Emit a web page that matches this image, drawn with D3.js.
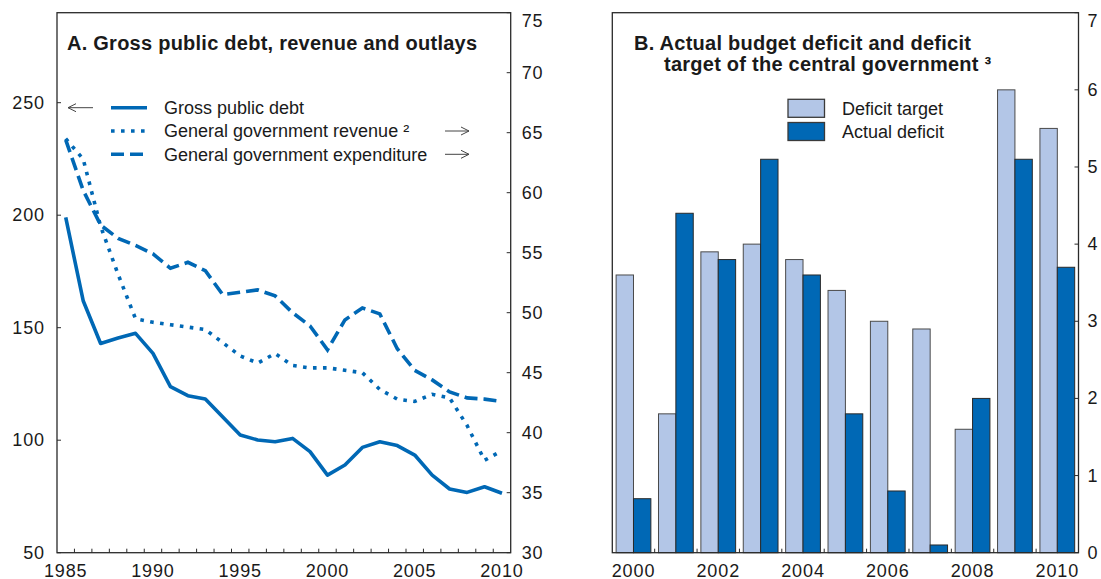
<!DOCTYPE html>
<html><head><meta charset="utf-8">
<script src="https://cdn.jsdelivr.net/npm/d3@7"></script>
<style>
body{margin:0;background:#fff}
text{font-family:"Liberation Sans",Arial,Helvetica,sans-serif;fill:#1a1a1a}
</style>
</head><body><svg id="c" width="1101" height="579"></svg>
<script>
// ---------- data ----------
const years = [1985,1986,1987,1988,1989,1990,1991,1992,1993,1994,1995,1996,1997,1998,1999,2000,2001,2002,2003,2004,2005,2006,2007,2008,2009,2010];
const grossDebt = [199,162,143,145.4,147.5,138.6,123.8,119.8,118.3,110.3,102.3,100.1,99.3,100.8,94.9,84.5,89,96.8,99.3,97.6,93.4,84.5,78.3,76.8,79.3,76.4];
const revenue = [64.5,62.8,57.2,53.2,49.5,49.2,49.0,48.8,48.6,47.5,46.4,45.8,46.6,45.6,45.4,45.4,45.2,45.0,43.6,42.8,42.6,43.2,42.9,40.6,37.7,38.5];
const expenditure = [64.4,60.2,57.3,56.2,55.6,54.9,53.7,54.2,53.5,51.5,51.7,51.9,51.4,50.0,48.9,46.9,49.4,50.4,49.9,47.0,45.2,44.4,43.4,42.9,42.8,42.6];
const leftTicksA = [50,100,150,200,250];
const rightTicksA = [30,35,40,45,50,55,60,65,70,75];
const xLabelsA = [1985,1990,1995,2000,2005,2010];
const legendA = ["Gross public debt","General government revenue \u00b2","General government expenditure"];
const titleA = "A. Gross public debt, revenue and outlays";

const barYears = [2000,2001,2002,2003,2004,2005,2006,2007,2008,2009,2010];
const deficitTarget = [3.6,1.8,3.9,4.0,3.8,3.4,3.0,2.9,1.6,6.0,5.5];
const actualDeficit = [0.7,4.4,3.8,5.1,3.6,1.8,0.8,0.1,2.0,5.1,3.7];
const rightTicksB = [0,1,2,3,4,5,6,7];
const xLabelsB = [2000,2002,2004,2006,2008,2010];
const legendB = ["Deficit target","Actual deficit"];
const titleB = ["B. Actual budget deficit and deficit","target of the central government \u00b3"];

// ---------- style ----------
const BLUE = "#0068b5", LIGHT = "#b3c6e7", FRAME = "#2a2a2a";
const yTop = 12.7, yBot = 552.7;
const svg = d3.select("#c");

function num(g, x, y, t, anchor){
  return g.append("text").attr("x",x).attr("y",y).attr("text-anchor",anchor)
    .attr("dominant-baseline","central").style("font-size","18px").style("letter-spacing","0.9px").text(t);
}
function title(g, x, y, t){
  return g.append("text").attr("x",x).attr("y",y).style("font-size","20px")
    .style("font-weight","bold").style("letter-spacing","0.25px").text(t);
}

// ================= Panel A =================
const ax0 = 57, ax1 = 510.7;
const xA = d3.scaleLinear().domain([1985,2011]).range([ax0,ax1]);
const yL = d3.scaleLinear().domain([50,290]).range([yBot,yTop]);
const yR = d3.scaleLinear().domain([30,75]).range([yBot,yTop]);
const gA = svg.append("g");

gA.selectAll(".xt").data(years.slice(1)).join("line")
  .attr("x1",d=>xA(d)).attr("x2",d=>xA(d)).attr("y1",yBot).attr("y2",yBot-4)
  .attr("stroke",FRAME).attr("stroke-width",1);
gA.selectAll(".lt").data(leftTicksA).join("line")
  .attr("x1",ax0).attr("x2",ax0+4).attr("y1",d=>yL(d)).attr("y2",d=>yL(d))
  .attr("stroke",FRAME).attr("stroke-width",1);
gA.selectAll(".rt").data(rightTicksA).join("line")
  .attr("x1",ax1).attr("x2",ax1-4).attr("y1",d=>yR(d)).attr("y2",d=>yR(d))
  .attr("stroke",FRAME).attr("stroke-width",1);

const lineL = d3.line().x((d,i)=>xA(years[i]+0.5)).y(d=>yL(d));
const lineR = d3.line().x((d,i)=>xA(years[i]+0.5)).y(d=>yR(d));
gA.append("path").attr("d",lineR(expenditure)).attr("fill","none").attr("stroke",BLUE)
  .attr("stroke-width",3.6).attr("stroke-dasharray","13 6");
gA.append("path").attr("d",lineR(revenue)).attr("fill","none").attr("stroke",BLUE)
  .attr("stroke-width",3.6).attr("stroke-dasharray","3.6 6.4");
gA.append("path").attr("d",lineL(grossDebt)).attr("fill","none").attr("stroke",BLUE)
  .attr("stroke-width",3.6).attr("stroke-linejoin","round");

gA.append("rect").attr("x",ax0).attr("y",yTop).attr("width",ax1-ax0).attr("height",yBot-yTop)
  .attr("fill","none").attr("stroke",FRAME).attr("stroke-width",1.3);

leftTicksA.forEach(v=>num(gA, ax0-12, yL(v), v, "end"));
rightTicksA.forEach(v=>num(gA, ax1+11, Math.max(yR(v), yTop+8), v, "start"));
xLabelsA.forEach(v=>{
  gA.append("text").attr("x",xA(v+0.5)).attr("y",576.5).attr("text-anchor","middle")
    .style("font-size","18px").style("letter-spacing","0.9px").text(v);
});

title(gA, 67, 50.3, titleA);

const legY = [107.7,131,154.3];
const dashes = [null,"3.6 6.4","13 6"];
legY.forEach((y,i)=>{
  const l = gA.append("line").attr("x1",111).attr("x2",147).attr("y1",y).attr("y2",y)
    .attr("stroke",BLUE).attr("stroke-width",3.6);
  if(dashes[i]) l.attr("stroke-dasharray",dashes[i]);
  gA.append("text").attr("x",164).attr("y",y+6.4).style("font-size","18px").text(legendA[i]);
});
function arrow(g,x1,x2,y){
  const dir = Math.sign(x2-x1);
  g.append("path").attr("d",`M${x1},${y}L${x2},${y}M${x2-dir*8},${y-4}L${x2},${y}L${x2-dir*8},${y+4}`)
    .attr("fill","none").attr("stroke","#444").attr("stroke-width",1);
}
arrow(gA,93,68,legY[0]);
arrow(gA,445,469,legY[1]);
arrow(gA,445,469,legY[2]);

// ================= Panel B =================
const bx0 = 612.3, bx1 = 1078.5;
const xB = d3.scaleBand().domain(barYears).range([bx0,bx1]).paddingInner(0.18).paddingOuter(0.09);
const sub = d3.scaleBand().domain(["t","a"]).range([0,xB.bandwidth()]);
const yB = d3.scaleLinear().domain([0,7]).range([yBot,yTop]);
const gB = svg.append("g");

gB.selectAll(".bt").data(barYears).join("rect")
  .attr("x",d=>xB(d)+sub("t")).attr("width",sub.bandwidth())
  .attr("y",(d,i)=>yB(deficitTarget[i])).attr("height",(d,i)=>yBot-yB(deficitTarget[i]))
  .attr("fill",LIGHT).attr("stroke","#4a4a4a").attr("stroke-width",1);
gB.selectAll(".ba").data(barYears).join("rect")
  .attr("x",d=>xB(d)+sub("a")).attr("width",sub.bandwidth())
  .attr("y",(d,i)=>yB(actualDeficit[i])).attr("height",(d,i)=>yBot-yB(actualDeficit[i]))
  .attr("fill",BLUE).attr("stroke","#2a2a2a").attr("stroke-width",1);

gB.selectAll(".xt").data(barYears.slice(1)).join("line")
  .attr("x1",d=>xB(d)-xB.step()*0.09).attr("x2",d=>xB(d)-xB.step()*0.09)
  .attr("y1",yBot).attr("y2",yBot-4).attr("stroke",FRAME).attr("stroke-width",1);
gB.selectAll(".rt").data(rightTicksB).join("line")
  .attr("x1",bx1).attr("x2",bx1-4).attr("y1",d=>yB(d)).attr("y2",d=>yB(d))
  .attr("stroke",FRAME).attr("stroke-width",1);

gB.append("rect").attr("x",bx0).attr("y",yTop).attr("width",bx1-bx0).attr("height",yBot-yTop)
  .attr("fill","none").attr("stroke",FRAME).attr("stroke-width",1.3);

rightTicksB.forEach(v=>num(gB, bx1+9, Math.max(yB(v), yTop+8), v, "start"));
xLabelsB.forEach(v=>{
  gB.append("text").attr("x",xB(v)+xB.bandwidth()/2).attr("y",576.5).attr("text-anchor","middle")
    .style("font-size","18px").style("letter-spacing","0.9px").text(v);
});

title(gB, 634, 50.3, titleB[0]);
title(gB, 664, 71, titleB[1]);

const legBY = [108.3,131.5];
const legFill = [LIGHT,BLUE];
legBY.forEach((y,i)=>{
  gB.append("rect").attr("x",788).attr("y",y-9).attr("width",36.5).attr("height",18)
    .attr("fill",legFill[i]).attr("stroke","#3a3a3a").attr("stroke-width",1.3);
  gB.append("text").attr("x",842).attr("y",y+6.4).style("font-size","18px").text(legendB[i]);
});
</script>
</body></html>
